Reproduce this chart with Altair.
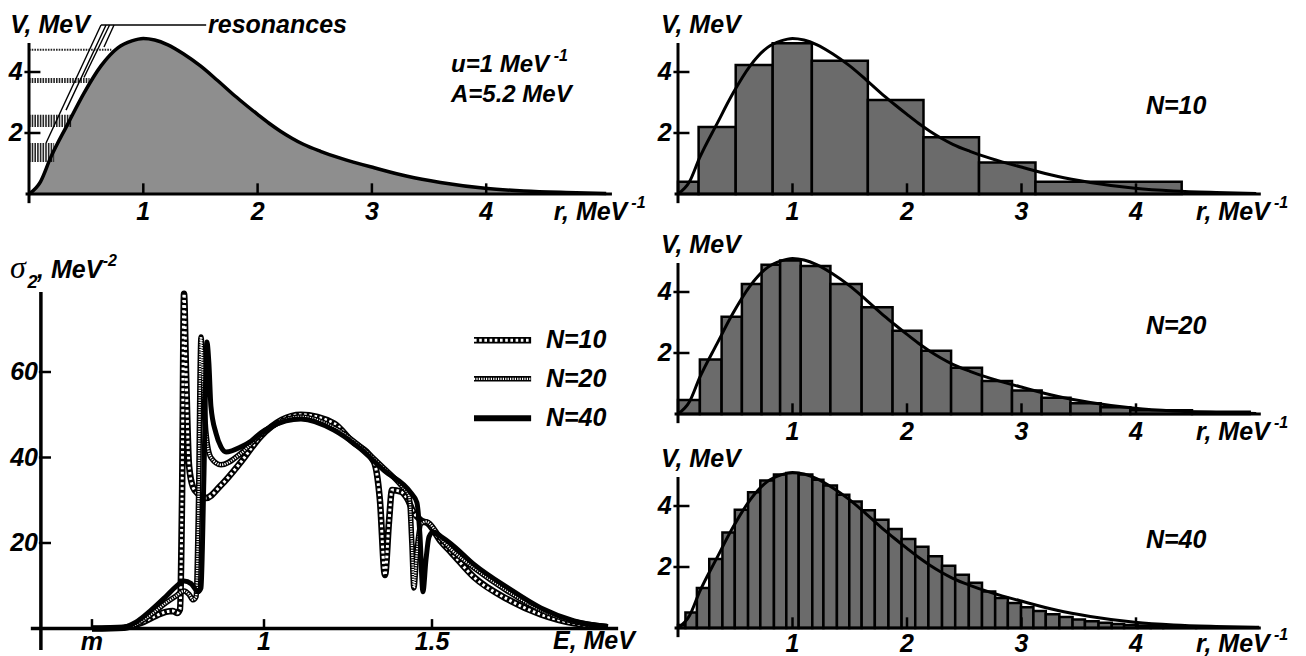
import altair as alt
import pandas as pd

# ---------------- values ----------------
# potential V(r): r in MeV^-1, V in MeV
V_R = [0.0, 0.10, 0.19, 0.34, 0.48, 0.63, 0.78, 0.90, 1.00, 1.10, 1.21, 1.35, 1.50,
       1.65, 1.80, 1.90, 2.00, 2.10, 2.20, 2.30, 2.40, 2.55, 2.73, 3.02, 3.31, 3.60,
       3.99, 4.33, 4.70, 5.05]
V_VAL = [0.0, 0.40, 1.20, 2.30, 3.30, 4.20, 4.80, 5.02, 5.10, 5.05, 4.90, 4.60, 4.20,
         3.72, 3.22, 2.91, 2.61, 2.32, 2.06, 1.83, 1.63, 1.40, 1.17, 0.86, 0.58, 0.38,
         0.19, 0.10, 0.05, 0.02]

# resonance bands (V ranges) and the r where they reach the curve
RES_LO = [1.05, 2.20, 3.64, 4.70]
RES_HI = [1.67, 2.60, 3.80, 4.76]
RES_REND = [0.22, 0.37, 0.53, 0.72]

# histogram approximations of the potential
N10_EDGES = [0.0, 0.18, 0.504, 0.827, 1.169, 1.658, 2.144, 2.629, 3.122, 4.399]
N10_V = [0.40, 2.20, 4.23, 4.94, 4.37, 3.08, 1.86, 1.03, 0.40]

N20_EDGES = [0.0, 0.191, 0.381, 0.558, 0.730, 0.892, 1.072, 1.331, 1.604, 1.874, 2.126,
             2.385, 2.655, 2.917, 3.176, 3.428, 3.691, 3.950, 4.489, 4.993]
N20_V = [0.46, 1.79, 3.19, 4.26, 4.89, 5.03, 4.85, 4.26, 3.50, 2.73, 2.07, 1.52, 1.08,
         0.77, 0.53, 0.35, 0.22, 0.12, 0.07]

N40_EDGES = [0.0, 0.065, 0.165, 0.273, 0.388, 0.496, 0.612, 0.719, 0.838, 0.946, 1.054,
             1.173, 1.270, 1.388, 1.496, 1.604, 1.719, 1.838, 1.953, 2.072, 2.187, 2.306,
             2.421, 2.540, 2.655, 2.770, 2.881, 2.996, 3.104, 3.212, 3.331, 3.446, 3.554,
             3.673, 3.788, 3.896, 4.014, 4.129, 4.237, 4.525, 5.065]
N40_V = [0.10, 0.51, 1.31, 2.26, 3.13, 3.88, 4.45, 4.84, 5.03, 5.08, 5.03, 4.86, 4.67,
         4.37, 4.15, 3.86, 3.55, 3.25, 2.92, 2.66, 2.35, 2.04, 1.75, 1.48, 1.20, 0.98,
         0.82, 0.68, 0.56, 0.45, 0.36, 0.28, 0.22, 0.17, 0.13, 0.10, 0.08, 0.06, 0.05, 0.03]

# cross section sigma_2(E)
S10_E = [0.488, 0.583, 0.634, 0.679, 0.708, 0.729, 0.741, 0.750, 0.756, 0.762, 0.768,
         0.777, 0.789, 0.804, 0.827, 0.872, 0.932, 0.991, 1.110, 1.208, 1.259, 1.327,
         1.345, 1.360, 1.372, 1.381, 1.408, 1.429, 1.443, 1.467, 1.488, 1.527, 1.557,
         1.625, 1.726, 1.824, 1.923, 2.003]
S10_S = [0.0, 0.2, 1.3, 3.0, 3.9, 4.1, 3.6, 4.5, 30.0, 78.3, 60.0, 38.0, 33.0, 31.5,
         30.5, 33.5, 39.0, 45.0, 50.0, 48.0, 44.0, 39.0, 30.0, 12.5, 25.0, 32.4, 32.0,
         30.0, 27.5, 25.3, 24.6, 20.3, 17.8, 12.0, 6.8, 3.3, 1.2, 0.4]

S20_E = [0.488, 0.583, 0.619, 0.664, 0.708, 0.738, 0.762, 0.777, 0.789, 0.798, 0.804,
         0.8125, 0.818, 0.827, 0.842, 0.872, 0.932, 0.991, 1.110, 1.208, 1.280, 1.357,
         1.408, 1.432, 1.440, 1.446, 1.455, 1.467, 1.482, 1.527, 1.557, 1.625, 1.726,
         1.824, 1.923, 2.020]
S20_S = [0.0, 0.2, 1.0, 3.3, 6.0, 7.6, 8.8, 8.0, 6.7, 7.5, 25.0, 68.2, 60.0, 46.0, 40.0,
         38.3, 41.0, 45.5, 49.5, 47.0, 43.0, 37.5, 33.5, 31.0, 20.0, 9.5, 18.0, 24.5,
         25.0, 21.0, 18.5, 14.2, 8.7, 4.3, 1.6, 0.45]

S40_E = [0.488, 0.545, 0.583, 0.619, 0.664, 0.708, 0.738, 0.762, 0.783, 0.804, 0.8125,
         0.821, 0.830, 0.836, 0.842, 0.857, 0.872, 0.887, 0.932, 0.961, 0.991, 1.021,
         1.110, 1.208, 1.280, 1.357, 1.4375, 1.455, 1.464, 1.473, 1.482, 1.491, 1.503,
         1.527, 1.557, 1.625, 1.726, 1.824, 1.923, 2.024]
S40_S = [0.0, 0.05, 0.3, 1.5, 4.3, 7.5, 9.8, 11.1, 10.5, 8.6, 9.5, 35.0, 67.0, 62.0,
         52.0, 45.7, 42.5, 41.3, 42.5, 43.8, 45.8, 47.2, 49.0, 46.4, 42.5, 37.0, 31.7,
         29.5, 22.0, 8.6, 16.0, 21.4, 22.6, 21.5, 19.8, 15.0, 9.5, 4.8, 1.8, 0.5]

# tick values and labels
R_XTICKS = [1, 2, 3, 4]
R_YTICKS = [2, 4]
E_XTICKS = [0.488, 1.0, 1.5]
E_XLABELS = ["m", "1", "1.5"]
S_YTICKS = [20, 40, 60]
LEGEND_LABELS = ["N=10", "N=20", "N=40"]

FONT = "Liberation Sans"
W, H = 1288, 632  # whole canvas; every panel is a region of it with its own scales


# ---------------- helpers ----------------
class Panel:
    """Scales of one panel placed at (ox, oy) inside the common canvas."""

    def __init__(self, ox, oy, xval, xpix, xunit, ybase, yunit):
        x0 = ox + xpix
        self.xd = [xval - x0 / xunit, xval + (W - x0) / xunit]
        y0 = oy + ybase
        self.yd = [-(H - y0) / yunit, y0 / yunit]

    def X(self, f):
        return alt.X(f, type="quantitative",
                     scale=alt.Scale(domain=self.xd, nice=False, zero=False), axis=None)

    def Y(self, f):
        return alt.Y(f, type="quantitative",
                     scale=alt.Scale(domain=self.yd, nice=False, zero=False), axis=None)


def seg(p, x0, x1, y0, y1, width=3.0, color="black", dash=None):
    df = pd.DataFrame({"x0": x0, "x1": x1, "y0": y0, "y1": y1})
    kw = dict(color=color, strokeWidth=width, strokeCap="butt")
    if dash:
        kw["strokeDash"] = dash
    return alt.Chart(df).mark_rule(**kw).encode(
        x=p.X("x0"), x2=alt.X2("x1"), y=p.Y("y0"), y2=alt.Y2("y1"))


def text(p, xs, ys, labels, size=25, align="left", baseline="alphabetic",
         font=FONT, style="italic", weight="bold"):
    df = pd.DataFrame({"x": xs, "y": ys, "t": labels})
    return alt.Chart(df).mark_text(
        font=font, fontSize=size, fontWeight=weight, fontStyle=style,
        align=align, baseline=baseline, color="black"
    ).encode(x=p.X("x"), y=p.Y("y"), text="t:N")


def curve(p, xs, ys, width, color="black", dash=None):
    df = pd.DataFrame({"x": xs, "y": ys})
    kw = dict(color=color, strokeWidth=width, interpolate="monotone",
              strokeJoin="round", strokeCap="butt")
    if dash:
        kw["strokeDash"] = dash
    return alt.Chart(df).mark_line(**kw).encode(x=p.X("x"), y=p.Y("y"))


def r_axes(p, xmax, xlab_v):
    n = len(R_XTICKS)
    m = len(R_YTICKS)
    return [
        seg(p, [-0.03], [xmax], [0], [0], width=3),
        seg(p, [0], [0], [-0.3], [4.95], width=3),
        seg(p, R_XTICKS, R_XTICKS, [0] * n, [0.35] * n, width=2.5),
        seg(p, [-0.04] * m, [0.1] * m, R_YTICKS, R_YTICKS, width=2.5),
        text(p, R_XTICKS, [xlab_v] * n, [str(t) for t in R_XTICKS], align="center"),
        text(p, [-0.055] * m, R_YTICKS, [str(t) for t in R_YTICKS], align="right",
             baseline="middle"),
    ]


# ---------------- top-left: potential with resonances ----------------
tl = Panel(0, 0, 0, 20, 114.3, 186, 30.5)
vdf = pd.DataFrame({"r": V_R, "v": V_VAL, "z": [0.0] * len(V_R)})
tl_area = alt.Chart(vdf).mark_area(color="#8e8e8e", interpolate="monotone").encode(
    x=tl.X("r"), y=tl.Y("v"), y2=alt.Y2("z"))
bands = pd.DataFrame({
    "a": [0.0] * len(RES_LO), "b": RES_REND,
    "m": [(lo + hi) / 2 for lo, hi in zip(RES_LO, RES_HI)],
    "w": [(hi - lo) * 30.5 for lo, hi in zip(RES_LO, RES_HI)],
})
tl_bands = alt.Chart(bands).mark_rule(color="black", strokeDash=[1.6, 1.1],
                                      strokeCap="butt", opacity=0.85).encode(
    x=tl.X("a"), x2=alt.X2("b"), y=tl.Y("m"), y2=alt.Y2("m"),
    strokeWidth=alt.StrokeWidth("w:Q", scale=None))
lead_top = [0.630, 0.674, 0.705, 0.744]
lead_end_r = [0.149, 0.324, 0.481, 0.656]
lead_end_v = [1.67, 2.75, 3.82, 4.82]
tl_layers = [
    tl_area, tl_bands,
    seg(tl, lead_top, lead_end_r, [5.54] * 4, lead_end_v, width=1.4),
    seg(tl, [0.63], [1.55], [5.54], [5.54], width=1.6),
    curve(tl, V_R, V_VAL, 3.5),
] + r_axes(tl, 5.1, -0.85) + [
    text(tl, [-0.165], [5.28], ["V, MeV"]),
    text(tl, [1.566], [5.28], ["resonances"]),
    text(tl, [3.692], [4.0], ["u=1 MeV"], size=24),
    text(tl, [4.59], [4.36], ["-1"], size=16),
    text(tl, [3.692], [3.02], ["A=5.2 MeV"], size=24),
    text(tl, [4.59], [-0.85], ["r, MeV"]),
    text(tl, [5.27], [-0.45], ["-1"], size=16),
]

# ---------------- bottom-left: sigma_2(E) ----------------
bl = Panel(0, 220, 1.0, 255, 336, 400.5, 4.275)
ny = len(S_YTICKS)
nx = len(E_XTICKS)
bl_layers = [
    curve(bl, S10_E, S10_S, 6.5),
    curve(bl, S10_E, S10_S, 3.0, color="white", dash=[2.6, 2.6]),
    curve(bl, S20_E, S20_S, 5.5),
    curve(bl, S20_E, S20_S, 2.4, color="white", dash=[1.2, 1.2]),
    curve(bl, S40_E, S40_S, 5.0),
    seg(bl, [0.306], [2.054], [0], [0], width=3.5),
    seg(bl, [0.336], [0.336], [-5.0], [78.7], width=3.5),
    seg(bl, [0.330] * ny, [0.366] * ny, S_YTICKS, S_YTICKS, width=2.5),
    seg(bl, E_XTICKS, E_XTICKS, [0] * nx, [2.2] * nx, width=2.5),
    text(bl, [0.3274] * ny, S_YTICKS, [str(t) for t in S_YTICKS], align="right",
         baseline="middle"),
    text(bl, E_XTICKS, [-5.0] * nx, E_XLABELS, align="center"),
    text(bl, [1.860], [-4.9], ["E, MeV"]),
    text(bl, [0.244], [82.0], ["σ"], size=32, font="Liberation Serif", weight="normal"),
    text(bl, [0.296], [79.6], ["2"], size=18),
    text(bl, [0.3244], [82.0], [", MeV"]),
    text(bl, [0.520], [84.8], ["-2"], size=16),
    # legend
    seg(bl, [1.625], [1.795], [67.4], [67.4], width=6.5),
    seg(bl, [1.625], [1.795], [67.4], [67.4], width=3.0, color="white", dash=[2.6, 2.6]),
    seg(bl, [1.625], [1.795], [58.4], [58.4], width=5.5),
    seg(bl, [1.625], [1.795], [58.4], [58.4], width=2.4, color="white", dash=[1.2, 1.2]),
    seg(bl, [1.625], [1.795], [49.2], [49.2], width=6.0),
    text(bl, [1.839] * 3, [67.4, 58.4, 49.2], LEGEND_LABELS, baseline="middle"),
]


# ---------------- right: histograms ----------------
def hist_layers(oy, edges, vals, label, xlab_v):
    p = Panel(642, oy, 0, 27, 114.5, 186, 30.5)
    df = pd.DataFrame({"a": edges[:-1], "b": edges[1:], "v": vals, "z": [0.0] * len(vals)})
    bars = alt.Chart(df).mark_rect(fill="#6b6b6b", stroke="black", strokeWidth=2.5).encode(
        x=p.X("a"), x2=alt.X2("b"), y=p.Y("v"), y2=alt.Y2("z"))
    return [bars, curve(p, V_R, V_VAL, 3.0)] + r_axes(p, 5.09, xlab_v) + [
        text(p, [-0.148], [5.28], ["V, MeV"]),
        text(p, [4.087], [2.89], [label], baseline="middle"),
        text(p, [4.525], [xlab_v], ["r, MeV"]),
        text(p, [5.205], [xlab_v + 0.4], ["-1"], size=16),
    ]


r_layers = (hist_layers(0, N10_EDGES, N10_V, "N=10", -0.85)
            + hist_layers(220, N20_EDGES, N20_V, "N=20", -0.85)
            + hist_layers(434, N40_EDGES, N40_V, "N=40", -0.80))

chart = alt.layer(*(tl_layers + bl_layers + r_layers)).resolve_scale(
    x="independent", y="independent"
).properties(width=W, height=H, padding=0).configure_view(stroke=None)

chart.save("out.html", embed_options={"renderer": "svg", "actions": False})
